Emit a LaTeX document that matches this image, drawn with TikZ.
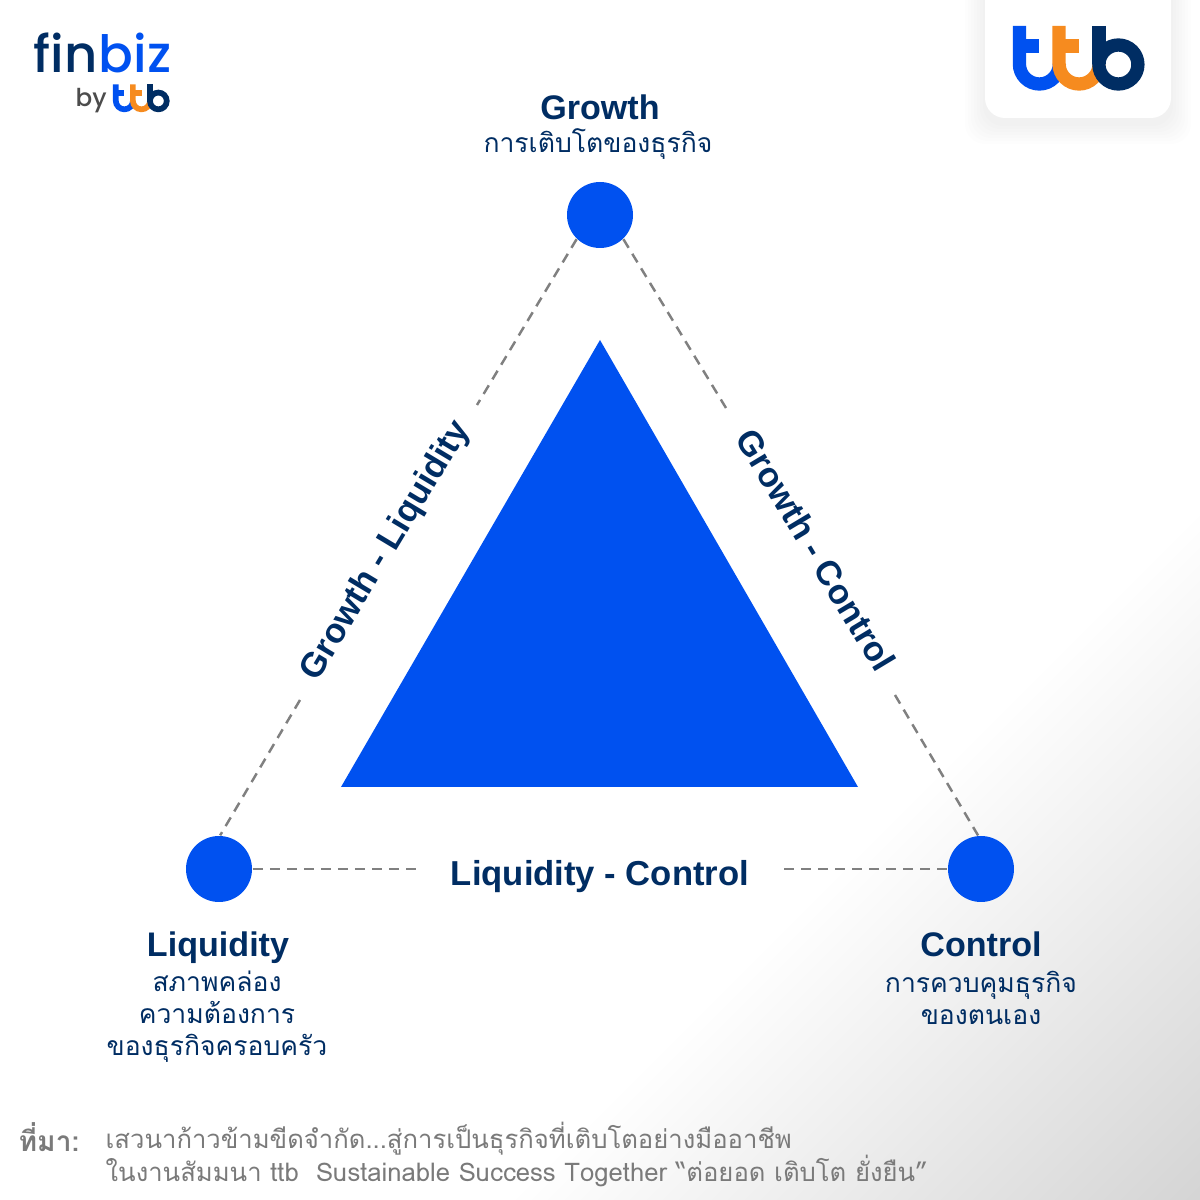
\documentclass[tikz,border=0pt]{standalone}
\usepackage{fontspec}
\setmainfont{Liberation Sans}
\newfontfamily\thaifont[Script=Thai]{Loma}
\newfontfamily\logofont{Poppins}[UprightFont=* Medium]
\definecolor{ttbblue}{HTML}{0051F0}
\definecolor{ttbnavy}{HTML}{002D63}
\definecolor{ttborange}{HTML}{F68B1F}
\definecolor{dashgrey}{HTML}{808080}
\definecolor{notegrey}{HTML}{7A7A7A}
\pgfdeclareverticalshading{bgfade}{100bp}{color(0bp)=(black!17); color(14bp)=(black!17); color(35bp)=(white); color(100bp)=(white)}
\newcommand{\ttbmark}[3]{%
	\begin{scope}[shift={(#1,#2)}, scale=#3, line width=#3*3.78pt]
		\draw[ttbblue] (0,0) -- (0,-0.38) arc (180:360:0.2);
		\draw[ttbblue] (0,-0.2) -- (0.2,-0.2);
		\draw[ttborange] (0.397,0) -- (0.397,-0.38) arc (180:360:0.2);
		\draw[ttborange] (0.397,-0.2) -- (0.6,-0.2);
		\draw[ttbnavy] (0.797,0) -- (0.797,-0.385);
		\draw[ttbnavy] (0.99,-0.385) circle (0.195);
	\end{scope}}
\tikzset{
	corner/.style={circle, fill=ttbblue, minimum size=0.66cm, inner sep=0pt},
	edgeline/.style={dashgrey, line width=0.7pt, dash pattern=on 2.85pt off 2pt},
	headtext/.style={text=ttbnavy, anchor=base, font=\fontsize{9.7}{11}\selectfont\bfseries},
	subtext/.style={text=ttbnavy, align=center, font=\thaifont\fontsize{7.55}{9.1}\selectfont},
	edgetext/.style={text=ttbnavy, font=\fontsize{9.85}{11}\selectfont\bfseries},
	notetext/.style={text=notegrey, anchor=west, inner sep=0pt, font=\thaifont\fontsize{7.3}{8.6}\selectfont},
}
\begin{document}
\begin{tikzpicture}
	\useasboundingbox (0,0) rectangle (12,12);
	% Background
	\shade[shading=bgfade, shading angle=45] (0,0) rectangle (12,12);
	% Logo card
	\foreach \g in {0.02,0.05,...,0.2}
		\fill[black, opacity=0.008, rounded corners=0.2cm] (9.85-\g,10.76-\g) rectangle (11.71+\g,12.3);
	\fill[white, rounded corners=0.2cm] (9.85,10.82) rectangle (11.71,12.4);
	\ttbmark{10.194}{11.74}{1}
	% Small logo
	\node[text=ttbnavy, anchor=base west, inner sep=0pt, font=\logofont\fontsize{14.6}{16}\selectfont] (fin) at (0.33,11.27) {fin};
	\node[text=ttbblue, anchor=base west, inner sep=0pt, font=\logofont\fontsize{14.6}{16}\selectfont] (biz) at (fin.base east) {biz};
	\node[text=black!70, anchor=base west, inner sep=0pt, font=\logofont\fontsize{7}{8}\selectfont] (by) at (0.75,10.93) {by};
	\ttbmark{1.158}{11.156}{0.43}
	% Triangle
	\fill[ttbblue] (6,8.6) -- (3.41,4.13) -- (8.58,4.13) -- cycle;
	% Corners
	\node[corner] (growth) at (6,9.85) {};
	\node[corner] (liquidity) at (2.19,3.31) {};
	\node[corner] (control) at (9.81,3.31) {};
	% Corner labels
	\node[headtext] (growthhead) at (6,10.80) {Growth};
	\node[subtext] (growthsub) at (5.98,10.56) {การเติบโตของธุรกิจ};
	\node[headtext] (liquidityhead) at (2.18,2.43) {Liquidity};
	\node[subtext, anchor=north] (liquiditysub) at (2.17,2.41) {สภาพคล่อง\\ความต้องการ\\ของธุรกิจครอบครัว};
	\node[headtext] (controlhead) at (9.81,2.43) {Control};
	\node[subtext, anchor=north] (controlsub) at (9.81,2.41) {การควบคุมธุรกิจ\\ของตนเอง};
	% Edge labels
	\node[edgetext, rotate=59] (growthliquidity) at (3.86,6.49) {Growth - Liquidity};
	\node[edgetext, rotate=-59] (growthcontrol) at (8.16,6.5) {Growth - Control};
	\node[edgetext] (liquiditycontrol) at (6,3.23) {Liquidity - Control};
	% Dashed edges
	\coordinate (gla) at (4.77,7.95);
	\coordinate (glb) at (3,5);
	\coordinate (gca) at (7.26,7.92);
	\coordinate (gcb) at (8.95,5.05);
	\coordinate (lca) at (4.18,3.31);
	\coordinate (lcb) at (7.84,3.31);
	\draw[edgeline] (growth.226) -- (gla);
	\draw[edgeline] (glb) -- (liquidity.88);
	\draw[edgeline] (growth.314) -- (gca);
	\draw[edgeline] (gcb) -- (control.95);
	\draw[edgeline] (liquidity.east) -- (lca);
	\draw[edgeline] (lcb) -- (control.west);
	% Source
	\node[notetext, font=\thaifont\fontsize{8}{9}\selectfont] (sourcehead) at (0.18,0.63) {\textbf{ที่มา:}};
	\node[notetext] (sourcea) at (1.05,0.61) {เสวนาก้าวข้ามขีดจำกัด...สู่การเป็นธุรกิจที่เติบโตอย่างมืออาชีพ};
	\node[notetext] (sourceb) at (1.05,0.29) {ในงานสัมมนา ttb\ \ Sustainable Success Together “ต่อยอด เติบโต ยั่งยืน”};
\end{tikzpicture}
\end{document}
